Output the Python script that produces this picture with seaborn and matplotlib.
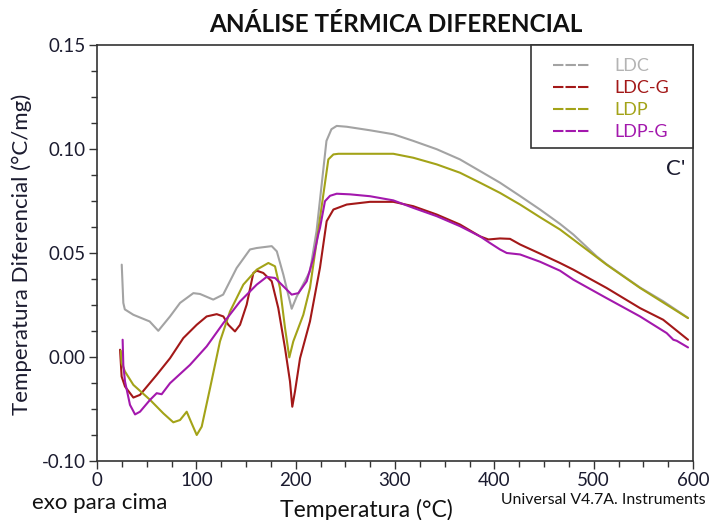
import numpy as np
import pandas as pd
import matplotlib
matplotlib.use("Agg")
import matplotlib.pyplot as plt
import seaborn as sns
from matplotlib.lines import Line2D
from matplotlib.patches import Rectangle
from matplotlib.ticker import MultipleLocator

# ---------------- data ----------------
ldc_t = [24.9, 26.5, 28.0, 36.6, 53.0, 61.7, 73.5, 83.6, 97.0, 103.7, 117.0, 127.0, 140.6,
         154.0, 160.8, 175.9, 181.0, 187.6, 196.0, 201.0, 214.4, 221.0, 231.0, 236.0, 241.3,
         251.4, 274.8, 298.3, 318.4, 342.0, 365.4, 385.6, 405.7, 425.9, 446.0, 466.1, 479.5,
         503.0, 513.0, 546.7, 570.0, 595.0]
ldc_v = [0.0444, 0.0260, 0.0229, 0.0203, 0.0171, 0.0126, 0.0195, 0.0260, 0.0307, 0.0303,
         0.0276, 0.0300, 0.0428, 0.0517, 0.0524, 0.0533, 0.0508, 0.0396, 0.0232, 0.0290,
         0.0412, 0.0605, 0.1039, 0.1095, 0.1111, 0.1107, 0.1090, 0.1071, 0.1039, 0.0999,
         0.0950, 0.0894, 0.0838, 0.0774, 0.0709, 0.0640, 0.0589, 0.0484, 0.0446, 0.0334,
         0.0268, 0.0188]

ldcg_t = [23.2, 24.8, 28.2, 36.6, 43.3, 60.1, 73.5, 86.9, 100.4, 110.4, 120.5, 127.2, 132.2,
          138.9, 144.0, 150.7, 157.4, 160.8, 167.4, 175.9, 182.5, 189.3, 194.3, 196.6, 199.3,
          204.4, 214.4, 224.5, 231.2, 238.0, 251.4, 274.8, 298.3, 318.4, 342.0, 365.4, 385.6,
          394.0, 405.7, 415.8, 425.9, 446.0, 466.1, 479.5, 513.0, 546.7, 570.0, 595.0]
ldcg_v = [0.0035, -0.0094, -0.0142, -0.0195, -0.0182, -0.0086, -0.0006, 0.0091, 0.0155,
          0.0195, 0.0206, 0.0195, 0.0155, 0.0123, 0.0155, 0.0252, 0.0404, 0.0415, 0.0404,
          0.0364, 0.0235, 0.0042, -0.0118, -0.0239, -0.0166, -0.0006, 0.0171, 0.0430,
          0.0653, 0.0709, 0.0733, 0.0746, 0.0746, 0.0725, 0.0685, 0.0637, 0.0580, 0.0565,
          0.0570, 0.0568, 0.0541, 0.0497, 0.0452, 0.0420, 0.0332, 0.0235, 0.0179, 0.0083]

ldp_t = [24.0, 24.8, 28.2, 36.6, 53.4, 66.8, 76.8, 83.6, 90.3, 95.3, 100.4, 105.4, 113.8,
         123.8, 133.9, 147.3, 160.8, 172.5, 179.2, 184.2, 189.3, 193.6, 197.6, 207.7, 214.4,
         221.2, 232.9, 238.0, 243.0, 298.3, 318.4, 342.0, 365.4, 385.6, 405.7, 425.9, 446.0,
         466.1, 479.5, 513.0, 546.7, 570.0, 595.0]
ldp_v = [0.0030, -0.0030, -0.0070, -0.0134, -0.0206, -0.0271, -0.0314, -0.0303, -0.0263,
         -0.0319, -0.0375, -0.0335, -0.0150, 0.0075, 0.0219, 0.0348, 0.0420, 0.0452, 0.0436,
         0.0332, 0.0139, -0.0002, 0.0075, 0.0203, 0.0332, 0.0557, 0.0950, 0.0974, 0.0977,
         0.0977, 0.0958, 0.0926, 0.0886, 0.0838, 0.0789, 0.0733, 0.0672, 0.0613, 0.0565,
         0.0444, 0.0332, 0.0262, 0.0187]

ldpg_t = [25.8, 26.5, 28.2, 33.2, 38.3, 43.3, 53.4, 60.1, 65.1, 73.5, 93.6, 110.4, 127.2,
          144.0, 160.8, 170.8, 179.2, 187.6, 196.0, 202.7, 211.1, 217.8, 222.8, 224.5, 229.5,
          234.6, 241.3, 254.7, 274.8, 298.3, 318.4, 342.0, 365.4, 385.6, 395.6, 405.7, 412.5,
          425.9, 446.0, 466.1, 479.5, 513.0, 546.7, 573.5, 580.2, 583.6, 595.0]
ldpg_v = [0.0083, -0.0038, -0.0118, -0.0230, -0.0276, -0.0263, -0.0206, -0.0174, -0.0179,
          -0.0126, -0.0038, 0.0051, 0.0163, 0.0267, 0.0348, 0.0385, 0.0380, 0.0340, 0.0300,
          0.0307, 0.0364, 0.0476, 0.0590, 0.0621, 0.0749, 0.0775, 0.0785, 0.0782, 0.0773,
          0.0753, 0.0717, 0.0677, 0.0629, 0.0580, 0.0548, 0.0517, 0.0500, 0.0493, 0.0458,
          0.0415, 0.0372, 0.0283, 0.0195, 0.0115, 0.0083, 0.0078, 0.0046]

series_names = ["LDC", "LDC-G", "LDP", "LDP-G"]
y_ticks = [-0.05, 0.00, 0.05, 0.10, 0.15]
y_tick_labels = ["-0.10", "0.00", "0.05", "0.10", "0.15"]
x_ticks = [0, 100, 200, 300, 400, 500, 600]

colors = {"LDC": "#a3a3a3", "LDC-G": "#a31818", "LDP": "#a3a318", "LDP-G": "#a318ad"}
text_colors = {"LDC": "#b4b4b4", "LDC-G": "#a31818", "LDP": "#a3a318", "LDP-G": "#a318ad"}

frames = []
for name, t, v in [("LDC", ldc_t, ldc_v), ("LDC-G", ldcg_t, ldcg_v),
                   ("LDP", ldp_t, ldp_v), ("LDP-G", ldpg_t, ldpg_v)]:
    frames.append(pd.DataFrame({"T": t, "v": v, "amostra": name}))
df = pd.concat(frames, ignore_index=True)

# ---------------- figure ----------------
sns.set_theme(style="white")
plt.rcParams["font.family"] = ["Lato", "DejaVu Sans"]
text_color = "#1b1b2f"

W, H = 711, 520
fig = plt.figure(figsize=(W / 100, H / 100), dpi=100)
ax = fig.add_axes([97 / W, 1 - 461 / H, (693 - 97) / W, (461 - 45) / H])

sns.lineplot(data=df, x="T", y="v", hue="amostra", hue_order=series_names,
             palette=colors, estimator=None, sort=False, linewidth=1.5,
             legend=False, ax=ax)

ax.set_xlim(0, 600)
ax.set_ylim(-0.05, 0.15)
ax.set_xticks(x_ticks)
ax.set_xticklabels([str(x) for x in x_ticks])
ax.set_yticks(y_ticks)
ax.set_yticklabels(y_tick_labels)
ax.xaxis.set_minor_locator(MultipleLocator(25))
ax.yaxis.set_minor_locator(MultipleLocator(0.0125))
ax.tick_params(axis="both", which="major", direction="out", length=6, width=1,
               color="#333333", labelsize=13.5, labelcolor=text_color, pad=2,
               bottom=True, left=True, top=False, right=False)
ax.tick_params(axis="both", which="minor", direction="out", length=4, width=1,
               color="#333333", bottom=True, left=True, top=False, right=False)
for s in ax.spines.values():
    s.set_color("#333333")
    s.set_linewidth(1.2)

ax.set_xlabel("")
ax.set_ylabel("")
fig.text(22 / W, 1 - 254 / H, "Temperatura Diferencial (°C/mg)", rotation=90,
         ha="center", va="center", fontsize=16, color=text_color)

fig.text(396 / W, 1 - 24 / H, "ANÁLISE TÉRMICA DIFERENCIAL", ha="center", va="center",
         fontsize=17.5, fontweight="bold", color="#111111")
ax.text(583, 0.0904, "C'", ha="center", va="center", fontsize=16, color=text_color)
fig.text(100 / W, 1 - 503 / H, "exo para cima", ha="center", va="center",
         fontsize=16, color="#111111")
fig.text(366 / W, 1 - 510 / H, "Temperatura (°C)", ha="center", va="center",
         fontsize=16.5, color="#111111")
fig.text(603 / W, 1 - 500 / H, "Universal V4.7A. Instruments", ha="center", va="center",
         fontsize=11.4, color="#111111")

# legend box (frame drawn separately to match the reference proportions)
ax.add_patch(Rectangle(((531 - 97) / 596, (461 - 148) / 416), (693 - 531) / 596,
                       (148 - 45) / 416, transform=ax.transAxes, facecolor="white",
                       edgecolor="#333333", linewidth=1.2, zorder=4, clip_on=False))
handles = [Line2D([0], [0], color=colors[n], lw=1.5, linestyle=(0, (5, 1)))
           for n in series_names]
leg = ax.legend(handles, series_names, loc="upper left",
                bbox_to_anchor=((553 - 97) / 596, (461 - 58) / 416),
                borderaxespad=0, borderpad=0, frameon=False, fontsize=13,
                handlelength=2.0, handletextpad=1.38, labelspacing=0.33)
leg.set_zorder(6)
for txt, n in zip(leg.get_texts(), series_names):
    txt.set_color(text_colors[n])

fig.savefig("out.png", dpi=100)
